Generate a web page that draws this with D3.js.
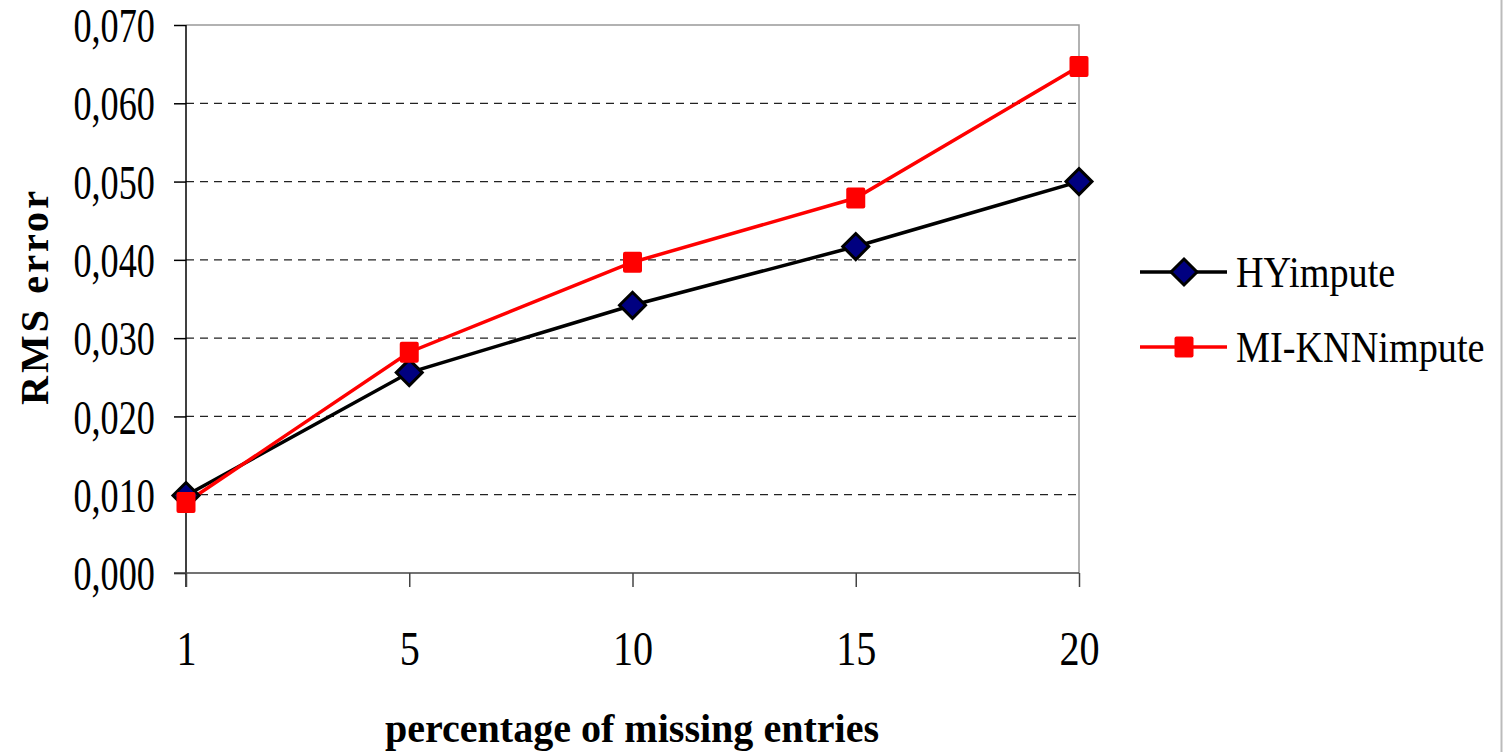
<!DOCTYPE html>
<html lang="en">
<head>
    <meta charset="UTF-8">
    <script src="https://d3js.org/d3.v7.min.js"></script>
    <title>RMS error</title>
    <style>
        body { margin: 0; background: #fff; }
        text { font-family: "Liberation Serif", "Times New Roman", serif; fill: #000; }
    </style>
</head>
<body>
    <div id="chart"></div>
    <script>
// data
const categories = ["1", "5", "10", "15", "20"];
const hyImpute = [0.0099, 0.0256, 0.0342, 0.0417, 0.0500];
const miKnnImpute = [0.0090, 0.0282, 0.0397, 0.0479, 0.0647];
const yTicks = [0, 0.01, 0.02, 0.03, 0.04, 0.05, 0.06, 0.07];
const seriesNames = ["HYimpute", "MI-KNNimpute"];

const W = 1503, H = 752;
const plot = { left: 186, right: 1079, top: 25, bottom: 573 };

const svg = d3.select("#chart").append("svg")
    .attr("width", W)
    .attr("height", H);

const x = d3.scalePoint()
    .domain(categories)
    .range([plot.left, plot.right]);

const y = d3.scaleLinear()
    .domain([0, 0.07])
    .range([plot.bottom, plot.top]);

const fmt = v => d3.format(".3f")(v).replace(".", ",");

// dashed gridlines
svg.append("g")
    .selectAll("line")
    .data(yTicks.filter(t => t > 0 && t < 0.07))
    .enter().append("line")
    .attr("x1", plot.left).attr("x2", plot.right)
    .attr("y1", d => y(d)).attr("y2", d => y(d))
    .attr("stroke", "#222")
    .attr("stroke-width", 1.2)
    .attr("stroke-dasharray", "8,6");

// plot border top/right (grey)
svg.append("path")
    .attr("d", `M${plot.left},${plot.top}H${plot.right}V${plot.bottom}`)
    .attr("fill", "none")
    .attr("stroke", "#999")
    .attr("stroke-width", 1.5);

// outer frame edge on the right
svg.append("line")
    .attr("x1", W - 1.5).attr("x2", W - 1.5)
    .attr("y1", 0).attr("y2", H)
    .attr("stroke", "#bbb")
    .attr("stroke-width", 2);

// y axis
const yAxis = svg.append("g")
    .attr("transform", `translate(${plot.left},0)`)
    .call(d3.axisLeft(y).tickValues(yTicks).tickFormat(fmt).tickSize(12).tickPadding(0));
yAxis.select(".domain").attr("stroke", "#000").attr("stroke-width", 1.5)
    .attr("d", `M0,${plot.top}V${plot.bottom + 14}`);
yAxis.selectAll(".tick line").attr("stroke", "#000").attr("stroke-width", 1.5);
yAxis.selectAll(".tick text")
    .attr("font-family", "Liberation Serif")
    .attr("font-size", 49)
    .attr("fill", "#000")
    .attr("x", 0)
    .attr("dy", "0.34em")
    .attr("text-anchor", "end")
    .attr("transform", "translate(-31,0) scale(0.74,1)");

// x axis
const xAxis = svg.append("g")
    .attr("transform", `translate(0,${plot.bottom})`)
    .call(d3.axisBottom(x).tickSize(14).tickPadding(0));
xAxis.select(".domain").attr("stroke", "#444").attr("stroke-width", 1.5)
    .attr("d", `M${plot.left - 12},0H${plot.right}`);
xAxis.selectAll(".tick line").attr("stroke", "#444").attr("stroke-width", 1.5);
xAxis.selectAll(".tick text")
    .attr("font-family", "Liberation Serif")
    .attr("font-size", 49)
    .attr("fill", "#000")
    .attr("y", 0)
    .attr("dy", 0)
    .attr("transform", "translate(0,92) scale(0.82,1)");

// axis titles
svg.append("text")
    .attr("x", 632).attr("y", 742)
    .attr("text-anchor", "middle")
    .attr("font-size", 40)
    .attr("font-weight", "bold")
    .attr("textLength", 494)
    .attr("lengthAdjust", "spacingAndGlyphs")
    .text("percentage of missing entries");

svg.append("text")
    .attr("transform", "translate(48,298) rotate(-90)")
    .attr("text-anchor", "middle")
    .attr("font-size", 40)
    .attr("font-weight", "bold")
    .attr("textLength", 214)
    .attr("lengthAdjust", "spacing")
    .text("RMS error");

// lines
const line = d3.line()
    .x((d, i) => x(categories[i]))
    .y(d => y(d));

svg.append("path")
    .datum(hyImpute)
    .attr("d", line)
    .attr("fill", "none")
    .attr("stroke", "#000")
    .attr("stroke-width", 3.5);

svg.append("path")
    .datum(miKnnImpute)
    .attr("d", line)
    .attr("fill", "none")
    .attr("stroke", "#ff0000")
    .attr("stroke-width", 3.5);

const diamond = (g, cx, cy) => g.append("path")
    .attr("d", `M${cx},${cy - 13}L${cx + 13},${cy}L${cx},${cy + 13}L${cx - 13},${cy}Z`)
    .attr("fill", "#000080")
    .attr("stroke", "#000")
    .attr("stroke-width", 3)
    .attr("stroke-linejoin", "miter");

const square = (g, cx, cy) => g.append("rect")
    .attr("x", cx - 9.5).attr("y", cy - 10.5)
    .attr("width", 19).attr("height", 21)
    .attr("rx", 2)
    .attr("fill", "#ff0000");

const hyMarks = svg.append("g");
hyImpute.forEach((v, i) => diamond(hyMarks, x(categories[i]), y(v)));
const miMarks = svg.append("g");
miKnnImpute.forEach((v, i) => square(miMarks, x(categories[i]), y(v)));

// legend
const legend = svg.append("g");
const legY = [272, 347];
legend.append("line").attr("x1", 1140).attr("x2", 1227)
    .attr("y1", legY[0]).attr("y2", legY[0])
    .attr("stroke", "#000").attr("stroke-width", 3.5);
diamond(legend, 1184, legY[0]);
legend.append("line").attr("x1", 1140).attr("x2", 1227)
    .attr("y1", legY[1]).attr("y2", legY[1])
    .attr("stroke", "#ff0000").attr("stroke-width", 3.5);
square(legend, 1184, legY[1]);

legend.selectAll("text.leg")
    .data(seriesNames)
    .enter().append("text")
    .attr("class", "leg")
    .attr("transform", (d, i) => `translate(1236,${legY[i] + 15}) scale(0.85,1)`)
    .attr("font-size", 45)
    .text(d => d);
    </script>
</body>
</html>
